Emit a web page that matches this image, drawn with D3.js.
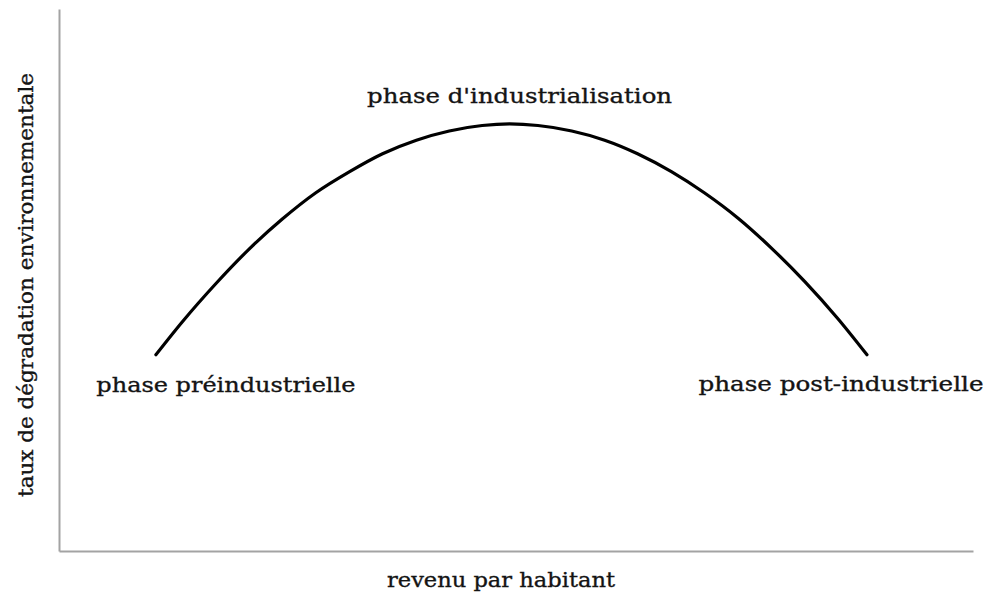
<!DOCTYPE html>
<html>
<head>
<meta charset="utf-8">
<script src="https://cdn.jsdelivr.net/npm/d3@7"></script>
<style>
  body { margin: 0; background: #fff; }
  svg { display: block; }
  .lbl { font-family: "DejaVu Serif", serif; font-size: 21px; fill: #141414; stroke: #141414; stroke-width: 0.35px; }
</style>
</head>
<body>
<div id="chart"><svg width="986" height="593"></svg></div>
<script>
/* global d3 */

// revenu par habitant (0-100, arbitrary units)
var revenu = [10.6, 13.5, 17.2, 20.8, 24.4, 28.1, 31.8, 35.4, 39.1, 42.7, 46.3, 49.3,
  52.4, 56.1, 59.7, 63.3, 67.0, 70.6, 74.3, 78.0, 81.6, 85.2, 88.4]
// taux de dégradation environnementale (0-100, arbitrary units)
var degradation = [36.2, 42.3, 49.4, 55.7, 61.2, 66.1, 70.0, 73.3, 75.8, 77.5, 78.5, 78.8,
  78.5, 77.5, 75.8, 73.3, 70.0, 66.1, 61.4, 55.8, 49.7, 42.9, 36.2]

var phases = ['phase préindustrielle', "phase d'industrialisation", 'phase post-industrielle']
var xTitle = 'revenu par habitant'
var yTitle = 'taux de dégradation environnementale'

var margin = { top: 9, right: 13, bottom: 42, left: 59 }
var width = 986 - margin.left - margin.right
var height = 593 - margin.top - margin.bottom

var svg = d3.select('#chart svg')
var g = svg.append('g')
    .attr('transform', 'translate(' + margin.left + ',' + margin.top + ')')

var x = d3.scaleLinear().domain([0, 100]).range([0, width])
var y = d3.scaleLinear().domain([0, 100]).range([height, 0])

var data = revenu.map((r, i) => ({ r: r, d: degradation[i] }))

// axes: plain grey lines, no ticks
var xAxis = d3.axisBottom(x).tickValues([]).tickSizeOuter(0)
var yAxis = d3.axisLeft(y).tickValues([]).tickSizeOuter(0)

g.append('g')
    .attr('class', 'x axis')
    .attr('transform', 'translate(0,' + height + ')')
    .call(xAxis)
g.append('g')
    .attr('class', 'y axis')
    .call(yAxis)
g.selectAll('.axis .domain')
    .attr('stroke', '#a3a3a3')
    .attr('stroke-width', 2)

var line = d3.line()
    .x(d => x(d.r))
    .y(d => y(d.d))
    .curve(d3.curveMonotoneX)

g.append('path')
    .datum(data)
    .attr('fill', 'none')
    .attr('stroke', '#000')
    .attr('stroke-width', 3.2)
    .attr('stroke-linecap', 'round')
    .attr('d', line)

// phase labels under the start, over the peak, under the end of the curve
var first = data[0]
var last = data[data.length - 1]
var peak = data.reduce((a, b) => (b.d > a.d ? b : a))

var labels = [
  { t: phases[0], x: x(first.r) + 70, y: y(first.d) + 37, len: 259 },
  { t: phases[1], x: x(peak.r) + 10, y: y(peak.d) - 21, len: 305 },
  { t: phases[2], x: x(last.r) - 26, y: y(last.d) + 36, len: 285 }
]

g.selectAll('.phase')
    .data(labels)
  .enter().append('text')
    .attr('class', 'lbl phase')
    .attr('text-anchor', 'middle')
    .attr('x', d => d.x)
    .attr('y', d => d.y)
    .attr('textLength', d => d.len)
    .attr('lengthAdjust', 'spacingAndGlyphs')
    .text(d => d.t)

g.append('text')
    .attr('class', 'lbl')
    .attr('text-anchor', 'middle')
    .attr('x', width / 2 - 15)
    .attr('y', height + 36)
    .attr('textLength', 228)
    .attr('lengthAdjust', 'spacingAndGlyphs')
    .text(xTitle)

g.append('text')
    .attr('class', 'lbl')
    .attr('text-anchor', 'middle')
    .attr('transform', 'translate(' + (-26) + ',' + (height / 2 + 5) + ') rotate(-90)')
    .attr('textLength', 424)
    .attr('lengthAdjust', 'spacingAndGlyphs')
    .text(yTitle)
</script>
</body>
</html>
